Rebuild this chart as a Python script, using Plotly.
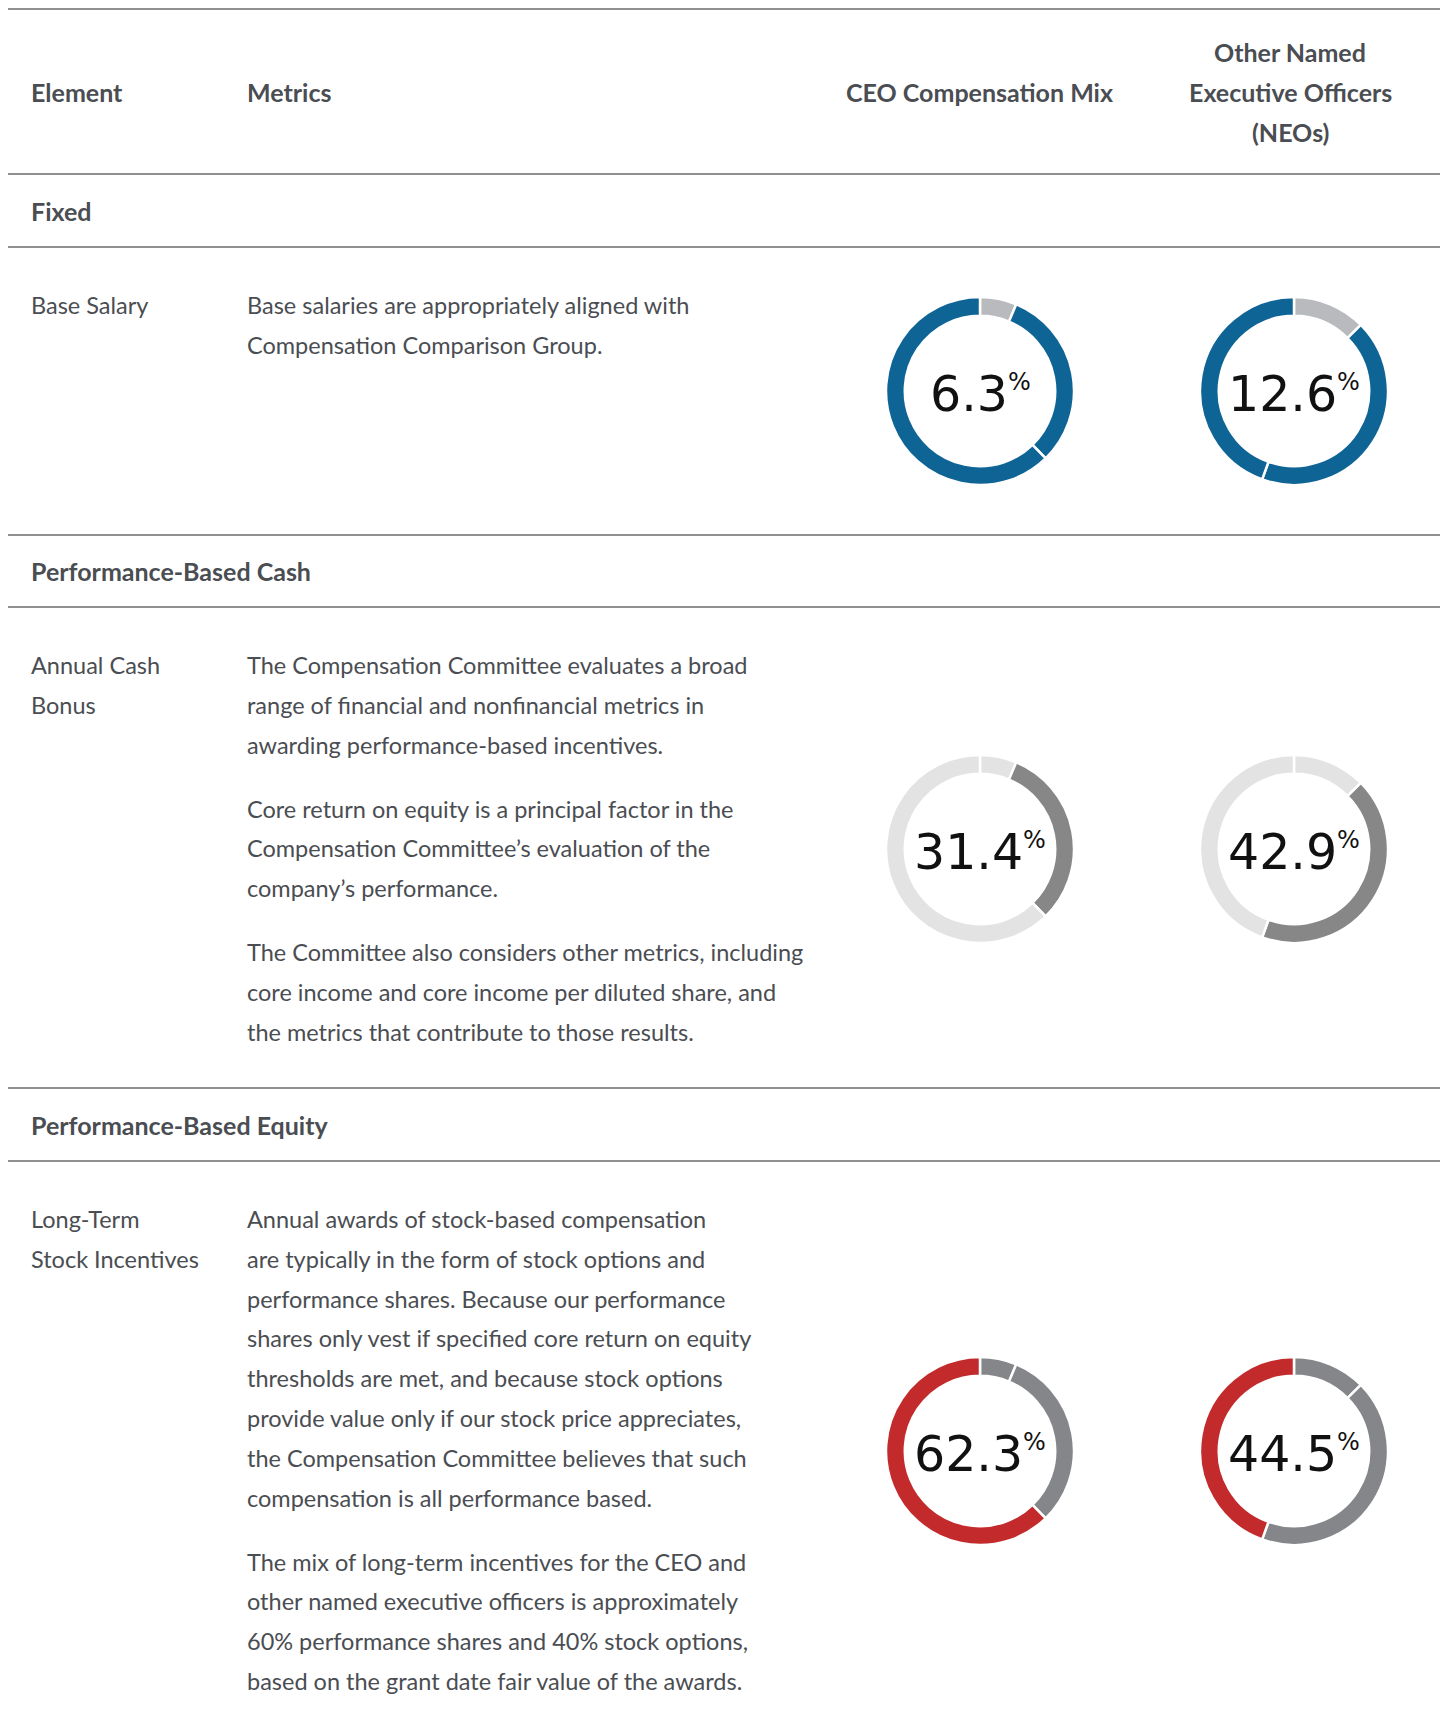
import plotly.graph_objects as go

# page size and the browser's default 8px body margin (figure is placed at 8,8)
PAGE_W, PAGE_H = 1448, 1731
OFF = 8
W, H = PAGE_W - 2 * OFF, PAGE_H - 2 * OFF

# ---------------- data ----------------
components = ["Base Salary", "Annual Cash Bonus", "Long-Term Stock Incentives"]
ceo_mix = [6.3, 31.4, 62.3]
neo_mix = [12.6, 42.9, 44.5]

header_cols = ["Element", "Metrics", "CEO Compensation Mix"]
neo_header = ["Other Named", "Executive Officers", "(NEOs)"]
sections = ["Fixed", "Performance-Based Cash", "Performance-Based Equity"]
element_labels = [["Base Salary"], ["Annual Cash", "Bonus"], ["Long-Term", "Stock Incentives"]]
metrics_text = [
    [["Base salaries are appropriately aligned with",
      "Compensation Comparison Group."]],
    [["The Compensation Committee evaluates a broad",
      "range of financial and nonfinancial metrics in",
      "awarding performance-based incentives."],
     ["Core return on equity is a principal factor in the",
      "Compensation Committee\u2019s evaluation of the",
      "company\u2019s performance."],
     ["The Committee also considers other metrics, including",
      "core income and core income per diluted share, and",
      "the metrics that contribute to those results."]],
    [["Annual awards of stock-based compensation",
      "are typically in the form of stock options and",
      "performance shares. Because our performance",
      "shares only vest if specified core return on equity",
      "thresholds are met, and because stock options",
      "provide value only if our stock price appreciates,",
      "the Compensation Committee believes that such",
      "compensation is all performance based."],
     ["The mix of long-term incentives for the CEO and",
      "other named executive officers is approximately",
      "60% performance shares and 40% stock options,",
      "based on the grant date fair value of the awards."]],
]

# ---------------- styles / layout (page pixel coordinates) ----------------
TXT = "#4a4d52"
LINE = "#6b6b6b"
FONT = "Lato"
FS = 23.5
FSB = 25
LH = 39.8
PARA_GAP = 64
BLUE, LGRAY, PALE, DGRAY, MGRAY, RED = "#0f6496", "#b9babd", "#e3e3e3", "#878787", "#85868a", "#c32a2c"
row_colors = [[LGRAY, BLUE, BLUE], [PALE, DGRAY, PALE], [MGRAY, MGRAY, RED]]

X_EL, X_MET, X_CEO, X_NEO = 29, 245, 980, 1294
hline_y = [9, 174, 247, 535, 607, 1088, 1161]
section_y = [211, 571, 1125]
row_text_y = [305, 665, 1219]
donut_cy = [391, 849, 1451]
R = 94

fig = go.Figure()
annotations = []
shapes = []


def txt(x, y, s, size=FS, anchor="left", color=TXT, bold=False, family=FONT):
    annotations.append(dict(
        x=x, y=y, xref="x", yref="y", text=(f"<b>{s}</b>" if bold else s),
        showarrow=False, xanchor=anchor, yanchor="middle",
        font=dict(family=family, size=size, color=color)))


for y in hline_y:
    shapes.append(dict(type="line", xref="x", yref="y", x0=7, x1=PAGE_W, y0=y, y1=y,
                       line=dict(color=LINE, width=1.5)))

# header
txt(X_EL, 92, header_cols[0], size=FSB, bold=True)
txt(X_MET, 92, header_cols[1], size=FSB, bold=True)
txt(X_CEO - 1, 92, header_cols[2], size=FSB, bold=True, anchor="center")
for i, s in enumerate(neo_header):
    txt(X_NEO - 4, 52 + i * LH, s, size=FSB, bold=True, anchor="center")

for r in range(3):
    txt(X_EL, section_y[r], sections[r], size=FSB, bold=True)
    for i, s in enumerate(element_labels[r]):
        txt(X_EL, row_text_y[r] + i * LH, s)
    y = row_text_y[r]
    for p, para in enumerate(metrics_text[r]):
        if p > 0:
            y += PARA_GAP - LH
        for line in para:
            txt(X_MET, y, line)
            y += LH

    for cx, mix in ((X_CEO, ceo_mix), (X_NEO, neo_mix)):
        cy = donut_cy[r]
        fx0, fx1 = (cx - R - OFF) / W, (cx + R - OFF) / W
        fy0, fy1 = 1 - (cy + R - OFF) / H, 1 - (cy - R - OFF) / H
        fig.add_trace(go.Pie(
            values=mix, labels=components, sort=False, direction="clockwise", rotation=0,
            hole=0.8, textinfo="none", hoverinfo="label+value", showlegend=False,
            marker=dict(colors=row_colors[r], line=dict(color="white", width=2.5)),
            domain=dict(x=[fx0, fx1], y=[fy0, fy1])))
        annotations.append(dict(
            x=cx, y=cy + 3, xref="x", yref="y", showarrow=False, xanchor="center", yanchor="middle",
            text=f"{mix[r]}<sup><span style='font-size:24px'>%</span></sup>",
            font=dict(family="DejaVu Sans", size=49, color="#111111")))

fig.update_layout(
    width=W, height=H, margin=dict(l=0, r=0, t=0, b=0),
    paper_bgcolor="white", plot_bgcolor="white",
    xaxis=dict(range=[OFF, OFF + W], visible=False, fixedrange=True),
    yaxis=dict(range=[OFF + H, OFF], visible=False, fixedrange=True),
    annotations=annotations, shapes=shapes,
)
fig.write_html("out.html")
